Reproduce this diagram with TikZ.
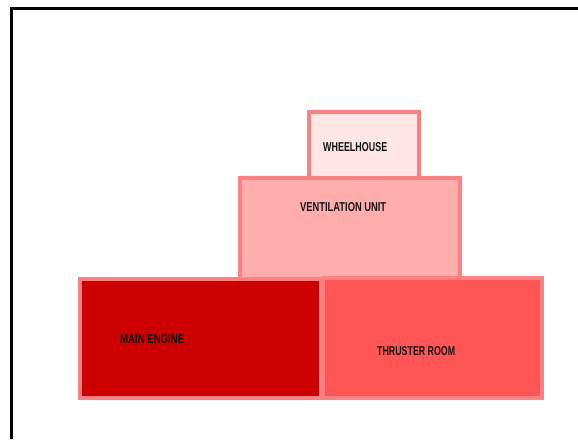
\documentclass[tikz,border=0pt]{standalone}
\usepackage{fontspec}
\setmainfont{Liberation Sans}
\definecolor{rim}{HTML}{FF8080}
\definecolor{whfill}{HTML}{FFE6E6}
\definecolor{vufill}{HTML}{FFADAD}
\definecolor{mefill}{HTML}{CC0000}
\definecolor{trfill}{HTML}{FF5555}
\definecolor{ink}{HTML}{151515}
\tikzset{
  room/.style={draw=rim, line width=4pt},
  lbl/.style={anchor=west, inner sep=0pt, text=ink},
}
\newcommand{\lab}[2]{\resizebox{#1pt}{9pt}{\textbf{#2}}}
\begin{document}
\begin{tikzpicture}[x=1pt,y=-1pt]
\useasboundingbox (0,0) rectangle (578,439);
\fill[white] (0,0) rectangle (578,439);
% frame
\draw[line width=3pt] (11,439) -- (11,8) -- (578,8);
% rooms
\draw[room, fill=whfill] (309,112) rectangle (419,178);
\draw[room, fill=vufill] (240,178) rectangle (460,279);
\draw[room, fill=mefill] (80,279) rectangle (321,398);
\draw[room, fill=trfill] (323,278) rectangle (542,398);
% labels
\node[lbl] (wh) at (323,147) {\lab{64}{WHEELHOUSE}};
\node[lbl] (vu) at (300,207) {\lab{86}{VENTILATION UNIT}};
\node[lbl] (me) at (120,339.5) {\lab{64}{MAIN ENGINE}};
\node[lbl] (tr) at (377,351) {\lab{78}{THRUSTER ROOM}};
\end{tikzpicture}
\end{document}
